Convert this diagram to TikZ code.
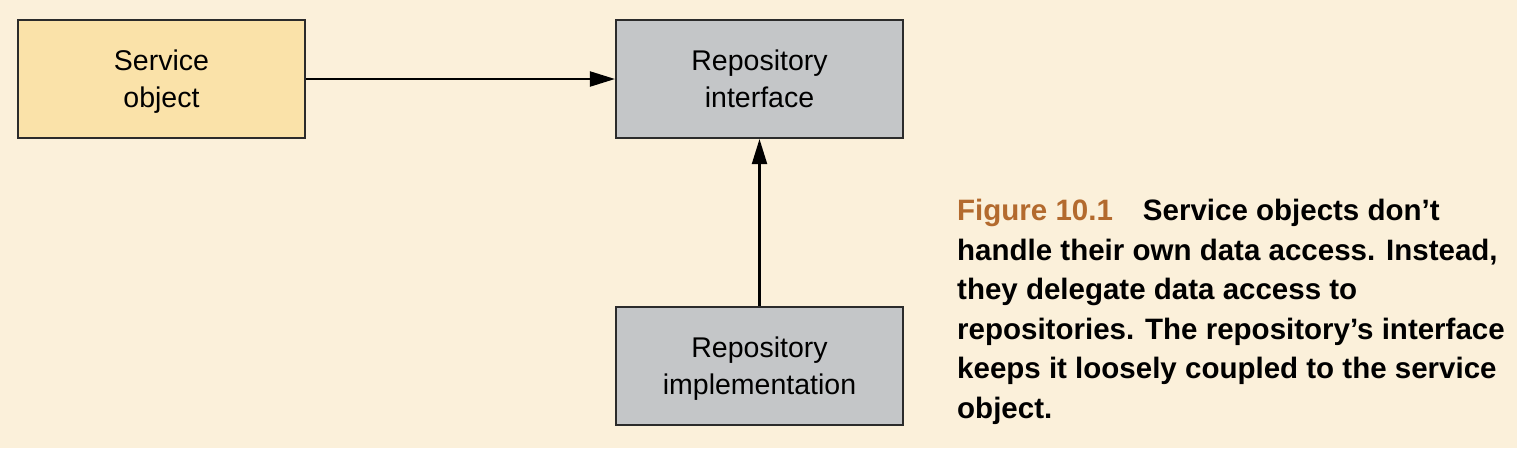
\documentclass[tikz,border=0pt]{standalone}
\usepackage{fontspec}
\setmainfont{Liberation Sans}
\usetikzlibrary{arrows.meta}
\definecolor{bgc}{HTML}{FBF0DA}
\definecolor{svcfill}{HTML}{FAE2A9}
\definecolor{grayfill}{HTML}{C4C6C8}
\definecolor{figc}{HTML}{B36A2E}
\definecolor{edgec}{HTML}{2B2B2B}
\newcommand\boxstrut{\rule[-6pt]{0pt}{31pt}}
\tikzset{
  box/.style={draw=edgec, line width=2.1pt, minimum width=287pt, minimum height=118pt,
    inner sep=0pt, align=center, font=\fontsize{28.5}{37}\selectfont},
  conn/.style={draw=black, line width=2.1pt, -{Triangle[length=25pt,width=15pt]}},
  caption/.style={anchor=north west, align=left, inner sep=0pt,
    font=\fontsize{29.5}{39.5}\selectfont\bfseries}
}
\begin{document}
\begin{tikzpicture}[x=1pt,y=-1pt]
\fill[bgc] (0,0) rectangle (1517,448);
\useasboundingbox (0,0) rectangle (1517,448);
\node[box, fill=svcfill] (svc) at (161.5,79) {\boxstrut Service\\\boxstrut object};
\node[box, fill=grayfill] (rif) at (759.5,79) {\boxstrut Repository\\\boxstrut interface};
\node[box, fill=grayfill] (rimpl) at (759.5,366) {\boxstrut Repository\\\boxstrut implementation};
\draw[conn] (svc.east) -- (rif.west);
\draw[conn] (rimpl.north) -- (rif.south);
\node[caption] (cap) at (957,199) {{\color{figc}Figure 10.1}\hspace{30pt}Service objects don’t\\
handle their own data access. Instead,\\
they delegate data access to\\
repositories. The repository’s interface\\
keeps it loosely coupled to the service\\
object.};
\end{tikzpicture}
\end{document}
